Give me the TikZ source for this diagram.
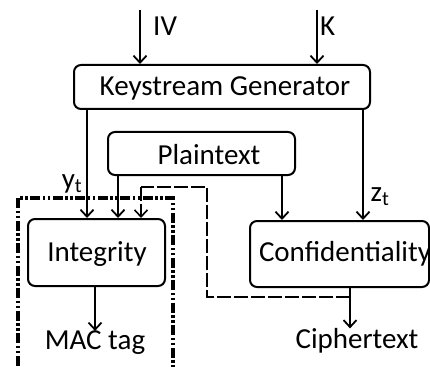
\documentclass[tikz,border=0pt]{standalone}
\usepackage{fontspec}
\setmainfont{Carlito}
\usetikzlibrary{arrows.meta}
\begin{document}
\begin{tikzpicture}[x=1pt,y=-1pt,
  box/.style={draw,line width=2pt,rounded corners=7pt,inner sep=0pt},
  lbl/.style={font=\fontsize{29}{31}\selectfont,inner sep=0pt},
  arr/.style={line width=2pt,-{Straight Barb[length=7pt,width=13pt,line width=1.8pt]}},
  dsh/.style={line width=1.6pt,dash pattern=on 14pt off 3pt},
  frame/.style={line width=3.6pt,dash pattern=on 10pt off 2.5pt on 2.5pt off 2.5pt on 2.5pt off 2.5pt}]
\useasboundingbox (0,0) rectangle (430,366);
% boxes
\node[box,minimum width=296pt,minimum height=44pt] (kg) at (222,87) {};
\node[lbl] (kgt) at (225,88) {Keystream Generator};
\node[box,minimum width=187pt,minimum height=43pt] (pt) at (201.5,153.5) {};
\node[lbl] (ptt) at (209,155) {Plaintext};
\node[box,minimum width=137pt,minimum height=67pt] (ig) at (96.5,252.5) {};
\node[lbl] (igt) at (97,254) {Integrity};
\node[box,minimum width=179pt,minimum height=66pt] (cf) at (339.5,254) {};
\node[lbl] (cft) at (345,254) {Confidentiality};
% frame
\draw[frame] (18,198) rectangle (173,369);
% inputs
\coordinate (ivs) at (140,10);
\coordinate (ks) at (317,10);
\draw[arr] (ivs) -- (ivs |- kg.north);
\draw[arr] (ks) -- (ks |- kg.north);
\node[lbl,anchor=west] (iv) at (153,26) {IV};
\node[lbl,anchor=west] (k) at (320,26) {K};
% keystream to integrity and confidentiality
\coordinate (yl) at (87,0);
\coordinate (zl) at (363,0);
\draw[arr] (yl |- kg.south) -- (yl |- ig.north);
\draw[arr] (zl |- kg.south) -- (zl |- cf.north);
\node[lbl] (yt) at (72,184) {y\textsubscript{t}};
\node[lbl] (zt) at (380,197) {z\textsubscript{t}};
% plaintext to both
\coordinate (pl) at (118,0);
\coordinate (pr) at (282,0);
\draw[arr] (pl |- pt.south) -- (pl |- ig.north);
\draw[arr] (pr |- pt.south) -- (pr |- cf.north);
% dashed feedback
\coordinate (d1) at (207,187);
\coordinate (d2) at (207,297);
\coordinate (d3) at (350,297);
\draw[dsh] (d3) -- (d2) -- (d1) -- (141,187);
\draw[dsh,-{Straight Barb[length=7pt,width=13pt,line width=1.6pt]}] (141,187) -- (141,0 |- ig.north);
% outputs
\node[lbl] (mac) at (95,343) {MAC tag};
\node[lbl] (ct) at (357,341) {Ciphertext};
\draw[arr] (ig.south -| mac.north) -- (mac.north);
\draw[arr] (cf.south -| d3) -- (d3 |- ct.north);
\end{tikzpicture}
\end{document}
